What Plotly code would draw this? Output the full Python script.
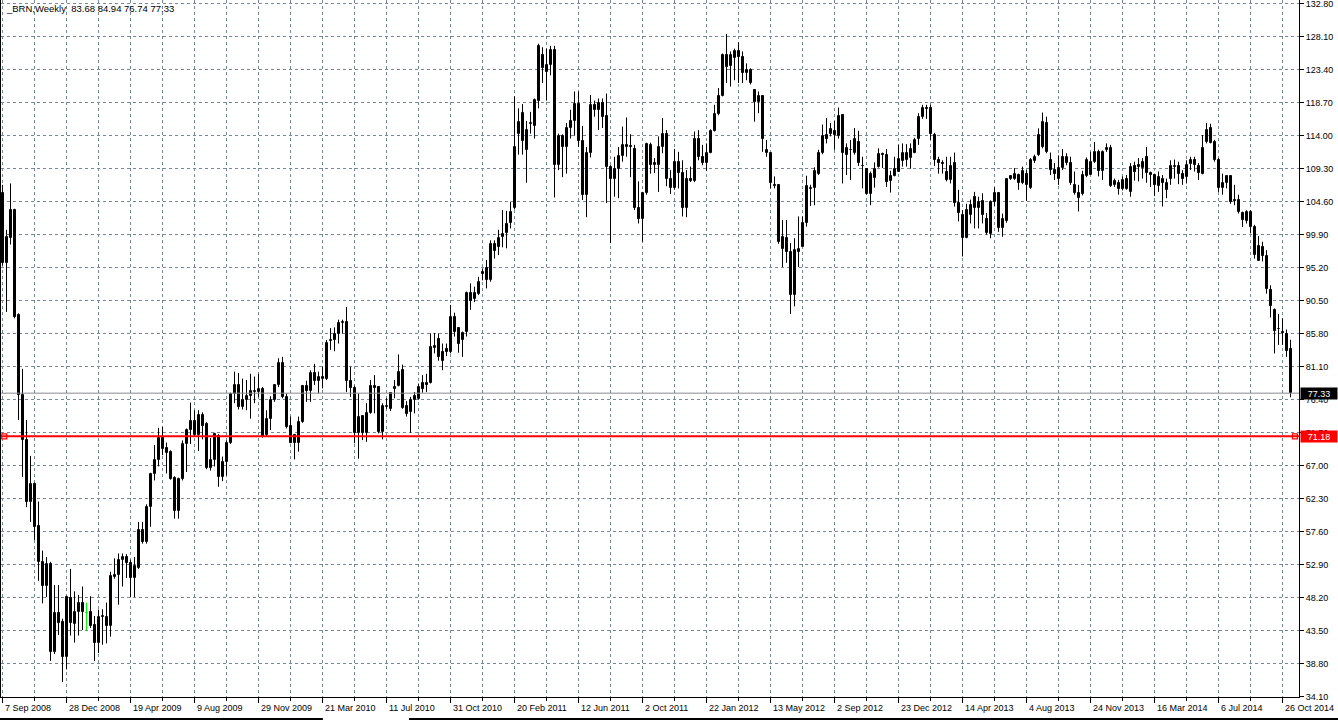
import plotly.graph_objects as go

symbol_title = "_BRN,Weekly"
header_values = "83.68 84.94 76.74 77.33"

opens = [
    105.8, 95.9, 99.5, 103.4, 88.4, 77.1, 70.7, 61.9, 64.4, 58.4,
    53.3, 49.9, 53.0, 40.4, 46.0, 44.8, 39.8, 48.2, 44.5, 46.2,
    47.4, 46.1, 46.1, 44.3, 41.7, 45.4, 45.5, 44.2, 51.2, 51.5,
    53.5, 54.0, 53.1, 51.0, 52.5, 57.8, 56.2, 61.1, 65.8, 67.8,
    71.0, 69.5, 68.9, 65.3, 60.6, 65.05, 70.1, 72.1, 73.4, 71.4,
    74.2, 72.9, 66.7, 67.8, 71.2, 65.4, 67.5, 70.3, 77.2, 78.5,
    75.3, 76.4, 76.9, 77.5, 77.5, 77.9, 71.4, 73.6, 76.4, 78.5,
    81.6, 76.8, 72.6, 71.4, 70.3, 73.2, 78.4, 77.7, 80.2, 79.1,
    79.4, 79.4, 84.7, 84.9, 85.75, 87.3, 87.5, 79.0, 78.0, 71.7,
    74.1, 71.6, 74.55, 78.4, 78.2, 71.8, 75.4, 75.1, 77.9, 78.4,
    80.6, 75.5, 74.6, 76.3, 76.45, 78.8, 78.8, 78.8, 83.7, 85.0,
    83.2, 83.6, 83.2, 88.2, 86.6, 84.95, 86.1, 91.6, 90.8, 91.5,
    94.3, 95.1, 93.5, 98.6, 98.1, 99.6, 100.2, 101.6, 103.7, 114.3,
    117.2, 111.9, 115.6, 115.4, 119.0, 125.5, 123.1, 124.1, 126.2, 109.8,
    113.96, 112.35, 115.05, 116.1, 118.5, 113.3, 105.6, 111.5, 118.4, 117.6,
    118.7, 116.8, 109.5, 107.8, 109.2, 111.1, 112.7, 112.5, 112.1, 103.7,
    102.2, 105.8, 112.7, 109.8, 109.8, 112.4, 114.2, 107.8, 106.5, 110.2,
    108.7, 103.7, 107.9, 107.5, 113.5, 110.9, 110.1, 111.6, 114.7, 117.1,
    119.7, 125.5, 123.9, 125.1, 126.1, 125.2, 122.9, 123.4, 120.5, 118.85,
    119.66, 111.6, 111.5, 107.0, 107.0, 97.9, 99.4, 97.5, 91.3, 97.4,
    98.2, 101.6, 106.4, 106.5, 108.5, 111.5, 114.1, 114.3, 114.7, 113.9,
    116.95, 111.2, 112.0, 111.6, 113.1, 109.75, 109.3, 105.7, 108.0, 109.6,
    111.4, 111.25, 107.5, 108.3, 108.9, 110.4, 111.5, 110.8, 111.6, 113.5,
    116.6, 118.0, 118.0, 114.1, 110.6, 110.1, 108.9, 107.7, 110.1, 104.4,
    102.7, 99.5, 102.7, 105.3, 103.7, 104.7, 102.2, 100.0, 104.5, 105.8,
    100.9, 101.8, 107.9, 107.9, 108.4, 107.2, 108.6, 106.5, 110.45, 111.3,
    112.4, 115.8, 110.6, 109.1, 107.9, 109.35, 110.1, 110.1, 107.0, 105.9,
    105.7, 108.2, 108.4, 110.2, 111.7, 109.0, 112.0, 112.2, 107.0, 107.3,
    106.4, 107.9, 106.0, 109.7, 109.5, 109.35, 110.9, 108.7, 108.4, 106.8,
    107.9, 106.2, 107.8, 109.5, 109.7, 108.5, 108.1, 110.0, 110.6, 109.7,
    108.6, 113.15, 115.05, 113.15, 110.6, 106.6, 107.3, 108.3, 104.8, 104.9,
    103.0, 101.9, 103.2, 100.95, 96.2, 98.1, 96.8, 92.0, 89.2, 86.5,
    86.0, 85.8, 83.68,
]

highs = [
    107.0, 100.6, 107.2, 103.6, 88.7, 80.8, 73.5, 68.4, 64.6, 61.9,
    54.9, 54.0, 53.3, 50.0, 50.0, 45.2, 48.5, 52.3, 49.1, 48.6,
    49.8, 47.5, 48.4, 45.6, 46.5, 46.55, 47.5, 51.9, 53.8, 54.5,
    54.5, 54.4, 53.6, 54.0, 59.0, 59.0, 61.5, 66.0, 69.95, 72.4,
    72.55, 70.3, 69.2, 65.5, 65.3, 70.6, 72.3, 76.0, 74.9, 74.9,
    74.6, 73.2, 70.95, 71.7, 71.5, 68.3, 70.6, 77.4, 80.4, 80.2,
    79.4, 79.2, 80.1, 79.7, 80.1, 78.2, 74.9, 76.9, 78.6, 82.3,
    82.5, 77.3, 74.0, 71.5, 74.0, 78.5, 79.1, 80.6, 81.5, 80.4,
    81.1, 84.9, 86.6, 86.7, 87.8, 87.8, 89.6, 81.1, 78.4, 77.3,
    74.2, 75.9, 79.2, 79.9, 78.3, 75.9, 76.6, 77.5, 79.2, 82.85,
    81.4, 76.2, 76.8, 77.5, 78.7, 79.9, 80.1, 85.85, 85.9, 85.85,
    84.4, 84.4, 89.9, 88.8, 86.6, 86.1, 91.8, 92.97, 92.5, 93.9,
    95.1, 96.3, 99.1, 99.1, 100.6, 103.4, 103.3, 104.6, 119.6, 117.9,
    118.5, 116.1, 117.4, 119.3, 127.1, 126.6, 126.4, 126.8, 126.8, 114.3,
    114.2, 115.8, 117.7, 120.3, 120.3, 115.4, 112.4, 119.8, 119.0, 119.3,
    119.3, 120.0, 109.8, 111.0, 112.4, 115.3, 116.6, 114.2, 112.7, 107.5,
    106.0, 113.0, 113.0, 110.8, 113.9, 116.5, 114.8, 109.1, 112.1, 111.7,
    110.5, 109.1, 109.6, 114.6, 114.8, 112.7, 112.9, 114.9, 118.4, 120.8,
    125.7, 128.5, 126.0, 126.4, 127.3, 126.0, 124.3, 123.6, 120.5, 120.3,
    119.7, 113.4, 111.5, 108.2, 107.0, 102.0, 102.0, 98.7, 99.4, 102.5,
    102.5, 108.3, 107.0, 109.5, 112.0, 115.6, 116.5, 115.8, 116.1, 118.0,
    117.0, 112.9, 113.4, 115.1, 114.7, 111.0, 109.4, 108.9, 110.2, 112.2,
    111.6, 112.1, 109.0, 111.0, 112.7, 112.9, 112.8, 112.9, 113.7, 117.2,
    118.4, 118.4, 118.4, 114.4, 111.0, 110.5, 111.0, 111.0, 111.6, 106.3,
    103.4, 104.3, 104.9, 106.0, 105.3, 105.8, 103.0, 104.8, 106.65, 105.9,
    102.9, 107.9, 108.4, 109.4, 108.6, 109.6, 109.1, 110.8, 111.3, 115.05,
    117.3, 116.7, 111.6, 110.1, 111.2, 112.1, 111.5, 111.0, 108.9, 107.0,
    109.0, 110.9, 111.7, 113.1, 112.0, 111.9, 112.9, 112.7, 107.9, 107.7,
    108.2, 108.4, 110.1, 110.3, 110.8, 110.8, 112.4, 108.9, 108.6, 108.9,
    108.4, 107.9, 110.5, 110.6, 110.3, 109.1, 110.5, 111.0, 111.0, 110.1,
    114.1, 115.8, 115.7, 113.4, 110.8, 108.6, 108.4, 108.4, 107.0, 105.6,
    103.2, 103.4, 103.4, 101.3, 99.7, 98.9, 97.7, 92.7, 89.4, 88.6,
    88.0, 86.4, 84.94,
]

lows = [
    95.5, 88.9, 98.5, 88.0, 73.5, 65.4, 61.1, 59.0, 56.4, 50.6,
    47.4, 48.3, 39.2, 40.2, 42.9, 36.2, 38.0, 42.8, 41.8, 42.8,
    43.6, 43.6, 43.9, 39.2, 40.3, 41.5, 41.7, 42.65, 50.9, 47.2,
    49.8, 51.0, 48.25, 48.3, 52.3, 55.9, 55.9, 58.3, 64.9, 66.9,
    68.5, 65.9, 65.0, 59.45, 59.45, 64.9, 66.1, 70.1, 71.1, 69.1,
    70.75, 66.5, 66.3, 66.9, 64.0, 64.8, 65.6, 70.1, 75.9, 75.0,
    75.0, 74.9, 73.7, 75.9, 76.8, 71.0, 71.2, 72.1, 76.1, 78.2,
    76.6, 72.3, 70.2, 67.9, 69.0, 73.1, 76.1, 76.1, 78.5, 77.3,
    78.0, 79.2, 83.5, 83.3, 84.4, 85.8, 77.5, 76.8, 70.2, 68.0,
    70.65, 70.4, 74.4, 74.45, 71.6, 70.75, 75.1, 74.8, 76.6, 78.3,
    75.1, 74.0, 71.7, 74.45, 76.4, 77.4, 77.5, 78.7, 83.0, 81.95,
    80.6, 82.6, 83.0, 85.4, 83.1, 82.5, 85.4, 89.2, 90.3, 91.3,
    93.4, 92.25, 93.2, 96.5, 97.0, 98.1, 97.96, 100.8, 103.5, 111.3,
    111.3, 107.3, 114.3, 113.6, 117.9, 121.5, 119.0, 122.6, 105.2, 109.1,
    108.1, 108.6, 113.6, 114.0, 112.4, 104.85, 102.4, 110.9, 116.7, 114.8,
    115.1, 104.4, 98.7, 105.3, 105.1, 110.3, 111.0, 108.1, 103.4, 101.5,
    98.9, 105.6, 108.6, 108.7, 106.0, 111.5, 106.8, 105.7, 106.3, 106.5,
    102.5, 102.4, 107.4, 107.4, 110.5, 109.8, 109.0, 111.5, 114.6, 116.9,
    119.6, 121.5, 121.0, 121.9, 121.5, 121.5, 121.9, 121.3, 116.0, 117.2,
    111.7, 111.0, 106.5, 106.5, 98.6, 95.3, 95.9, 88.6, 89.7, 95.3,
    98.2, 101.05, 104.0, 104.1, 108.4, 111.35, 112.9, 113.9, 112.0, 113.6,
    107.2, 108.4, 107.7, 111.3, 109.7, 106.5, 105.6, 104.1, 106.6, 109.45,
    109.4, 106.7, 105.9, 108.2, 108.9, 109.6, 109.6, 109.3, 111.5, 112.7,
    116.4, 116.4, 113.4, 109.7, 108.6, 108.6, 107.5, 107.2, 103.9, 101.8,
    96.8, 99.4, 101.5, 100.8, 100.8, 101.5, 99.9, 99.4, 104.0, 100.3,
    99.6, 101.6, 107.7, 107.7, 106.3, 107.1, 104.7, 106.4, 110.1, 111.1,
    112.2, 111.5, 108.4, 107.7, 106.99, 109.1, 109.8, 107.0, 105.6, 103.2,
    105.5, 108.1, 108.4, 110.1, 108.2, 107.7, 111.7, 106.7, 106.7, 105.6,
    106.2, 106.3, 105.3, 107.6, 107.5, 107.9, 107.3, 106.7, 105.4, 106.0,
    103.9, 105.1, 107.0, 107.9, 107.1, 107.0, 107.2, 109.1, 108.9, 107.7,
    108.5, 112.9, 112.9, 110.3, 106.0, 105.6, 106.5, 104.3, 104.1, 102.9,
    101.0, 101.5, 100.1, 96.5, 96.2, 96.1, 91.5, 88.1, 83.0, 84.2,
    84.2, 82.5, 76.74,
]

closes = [
    95.9, 99.6, 103.4, 88.2, 77.0, 70.6, 61.9, 64.4, 58.3, 53.3,
    49.9, 52.95, 40.4, 46.0, 44.6, 39.8, 48.25, 44.55, 46.2, 47.4,
    46.1, 46.1, 44.2, 41.7, 45.5, 45.6, 44.2, 51.3, 51.5, 53.6,
    54.0, 53.1, 51.0, 52.7, 57.8, 56.2, 61.1, 65.8, 67.8, 71.0,
    69.4, 68.8, 65.15, 60.6, 65.05, 70.1, 72.1, 73.4, 71.4, 74.2,
    72.7, 66.7, 67.8, 71.45, 65.4, 67.5, 70.3, 77.2, 78.5, 75.3,
    76.4, 76.9, 77.7, 77.7, 77.9, 71.1, 73.6, 76.4, 78.5, 81.6,
    76.8, 72.5, 70.3, 70.3, 73.2, 78.4, 77.7, 80.2, 79.1, 79.6,
    79.6, 84.5, 84.9, 85.75, 87.3, 87.5, 79.0, 78.0, 71.7, 74.0,
    71.6, 74.55, 78.4, 78.1, 71.8, 75.55, 75.55, 77.4, 78.2, 80.4,
    75.2, 74.3, 76.3, 76.9, 78.25, 77.9, 78.5, 83.85, 84.0, 82.5,
    81.95, 83.2, 88.2, 86.1, 84.4, 85.85, 91.6, 90.5, 91.6, 93.2,
    94.6, 93.5, 98.6, 97.6, 99.5, 100.0, 101.4, 103.1, 112.35, 116.0,
    113.3, 114.8, 115.8, 119.1, 126.8, 123.6, 124.1, 126.2, 109.8, 113.96,
    112.35, 115.05, 116.1, 118.5, 113.2, 105.6, 111.5, 118.4, 117.6, 118.7,
    116.7, 109.5, 107.8, 109.2, 111.1, 112.7, 112.4, 112.4, 103.7, 102.2,
    105.8, 112.8, 109.8, 110.05, 112.4, 114.2, 107.8, 106.5, 110.2, 108.7,
    103.7, 107.9, 107.5, 113.5, 110.9, 110.1, 111.6, 114.7, 117.1, 119.66,
    125.5, 123.8, 125.5, 126.1, 125.2, 122.9, 123.3, 121.5, 118.85, 119.66,
    113.5, 112.0, 107.2, 106.8, 98.8, 99.6, 97.5, 91.3, 97.7, 97.8,
    101.6, 106.8, 106.6, 109.0, 111.5, 113.9, 113.5, 115.0, 114.1, 116.8,
    111.6, 112.2, 111.9, 113.6, 110.1, 109.65, 105.7, 108.55, 109.3, 111.35,
    111.3, 107.4, 108.3, 109.3, 110.7, 111.5, 110.6, 112.1, 113.4, 116.6,
    117.9, 117.8, 114.3, 110.5, 110.1, 110.0, 107.7, 109.7, 104.4, 102.95,
    99.5, 103.4, 104.1, 103.7, 104.6, 102.7, 100.1, 104.6, 105.9, 100.9,
    102.1, 107.8, 108.2, 108.55, 107.2, 109.0, 107.0, 110.6, 111.0, 114.1,
    115.9, 111.7, 109.1, 108.55, 109.35, 110.9, 110.9, 107.2, 105.9, 105.1,
    108.4, 110.6, 110.3, 111.7, 109.0, 111.7, 112.2, 106.8, 107.5, 106.4,
    107.7, 106.4, 109.5, 108.9, 109.8, 110.2, 108.7, 108.4, 107.0, 108.1,
    107.3, 107.2, 109.7, 109.7, 108.6, 107.9, 109.8, 110.6, 109.8, 108.7,
    112.3, 114.8, 113.0, 110.5, 106.5, 107.2, 108.3, 104.6, 104.7, 103.2,
    102.0, 103.2, 100.95, 97.0, 98.3, 96.8, 92.1, 89.7, 86.2, 86.4,
    85.9, 83.4, 77.33,
]

# price-axis tick labels (right scale)
price_ticks = [34.10, 38.80, 43.50, 48.20, 52.90, 57.60, 62.30, 67.00, 71.70,
               76.40, 81.10, 85.80, 90.50, 95.20, 99.90, 104.60, 109.30,
               114.00, 118.70, 123.40, 128.10, 132.80]

# time-axis labels: one every 16 weekly bars, starting at the first bar
date_labels = ["7 Sep 2008", "28 Dec 2008", "19 Apr 2009", "9 Aug 2009",
               "29 Nov 2009", "21 Mar 2010", "11 Jul 2010", "31 Oct 2010",
               "20 Feb 2011", "12 Jun 2011", "2 Oct 2011", "22 Jan 2012",
               "13 May 2012", "2 Sep 2012", "23 Dec 2012", "14 Apr 2013",
               "4 Aug 2013", "24 Nov 2013", "16 Mar 2014", "6 Jul 2014",
               "26 Oct 2014"]
label_step = 16

bid_price = 77.33
level_price = 71.18

# ---------------------------------------------------------------
FONT = "Liberation Sans, Arial, sans-serif"
GRID = "#778899"
n = len(opens)
idx = list(range(n))
bull = [i for i in idx if closes[i] > opens[i]]
bear = [i for i in idx if closes[i] < opens[i]]
doji = [i for i in idx if closes[i] == opens[i]]


def wicks(ids):
    xs, ys = [], []
    for i in ids:
        xs += [i, i, None]
        ys += [lows[i], highs[i], None]
    return xs, ys


fig = go.Figure()

wx, wy = wicks([i for i in idx if i not in doji])
fig.add_trace(go.Scatter(x=wx, y=wy, mode="lines",
                         line=dict(color="black", width=1), hoverinfo="skip"))
dx, dy = wicks(doji)
for i in doji:
    dx += [i - 0.375, i + 0.375, None]
    dy += [opens[i], opens[i], None]
fig.add_trace(go.Scatter(x=dx, y=dy, mode="lines",
                         line=dict(color="#00FF00", width=1), hoverinfo="skip"))

fig.add_trace(go.Bar(x=bear, base=[closes[i] for i in bear],
                     y=[opens[i] - closes[i] for i in bear], width=0.5,
                     marker=dict(color="black", line=dict(color="black", width=1))))
fig.add_trace(go.Bar(x=bull, base=[opens[i] for i in bull],
                     y=[closes[i] - opens[i] for i in bull], width=0.5,
                     marker=dict(color="white", line=dict(color="black", width=1))))

# level-line anchor squares
fig.add_trace(go.Scatter(x=[0.45, n + 0.1], y=[level_price, level_price], mode="markers",
                         marker=dict(symbol="square", size=5, color="white",
                                     line=dict(color="red", width=1.2)),
                         cliponaxis=False, hoverinfo="skip"))

shapes = [
    dict(type="line", xref="paper", yref="y", x0=0, x1=1, y0=bid_price, y1=bid_price,
         line=dict(color="#8a8a8a", width=1), layer="above"),
    dict(type="line", xref="paper", yref="y", x0=0, x1=1, y0=level_price, y1=level_price,
         line=dict(color="#FF0000", width=2), layer="above"),
    dict(type="line", xref="paper", yref="paper", x0=-0.001, x1=0.248, y0=-0.0316, y1=-0.0316,
         line=dict(color="black", width=2)),
    dict(type="line", xref="paper", yref="paper", x0=0.3143, x1=1.031, y0=-0.0316, y1=-0.0316,
         line=dict(color="black", width=2)),
]

annotations = [
    dict(x=0, y=1, xref="paper", yref="paper", xanchor="left", yanchor="top",
         xshift=3, yshift=-1, showarrow=False,
         text=symbol_title + "  " + header_values,
         font=dict(family=FONT, size=9.5, color="black")),
    dict(x=1, y=bid_price, xref="paper", yref="y", xanchor="left", yanchor="middle",
         xshift=1, showarrow=False, text=f"{bid_price:.2f}", bgcolor="black",
         font=dict(family=FONT, size=9, color="white"), width=34, height=9,
         borderpad=1, align="center"),
    dict(x=1, y=level_price, xref="paper", yref="y", xanchor="left", yanchor="middle",
         xshift=1, showarrow=False, text=f"{level_price:.2f}", bgcolor="#FF0000",
         font=dict(family=FONT, size=9, color="white"), width=34, height=9,
         borderpad=1, align="center"),
]
for k, lab in enumerate(date_labels):
    annotations.append(dict(x=k * label_step, y=0, xref="x", yref="paper",
                            xanchor="left", yanchor="top", xshift=0, yshift=-4,
                            showarrow=False, text=lab,
                            font=dict(family=FONT, size=9, color="black")))

fig.update_layout(
    width=1338, height=720,
    margin=dict(l=1, r=39, t=0, b=23),
    paper_bgcolor="white", plot_bgcolor="white",
    showlegend=False, barmode="overlay", bargap=0,
    hovermode=False,
    font=dict(family=FONT, size=9, color="black"),
    shapes=shapes, annotations=annotations,
    xaxis=dict(range=[-0.375, 324.125], tickmode="linear", tick0=0, dtick=label_step,
               ticks="outside", ticklen=5, tickcolor="black", showticklabels=False,
               showgrid=True, gridcolor=GRID, griddash="3px,3px", gridwidth=1,
               minor=dict(tick0=0, dtick=8, ticks="outside", ticklen=3, tickcolor="black",
                          showgrid=True, gridcolor=GRID, griddash="3px,3px", gridwidth=1),
               showline=True, linecolor="black", linewidth=1, mirror=True,
               zeroline=False, fixedrange=True),
    yaxis=dict(side="right", range=[34.057, 133.327], tickmode="array",
               tickvals=price_ticks, ticktext=[f"{v:.2f}" for v in price_ticks],
               ticks="outside", ticklen=4, tickcolor="black",
               ticklabeloverflow="allow",
               showgrid=True, gridcolor=GRID, griddash="3px,3px", gridwidth=1,
               showline=True, linecolor="black", linewidth=1, mirror=True,
               zeroline=False, tickfont=dict(family=FONT, size=9, color="black"),
               fixedrange=True),
)

fig.write_html("out.html", config={"displayModeBar": False},
               post_script="document.body.style.margin='0';document.body.style.overflow='hidden';")
